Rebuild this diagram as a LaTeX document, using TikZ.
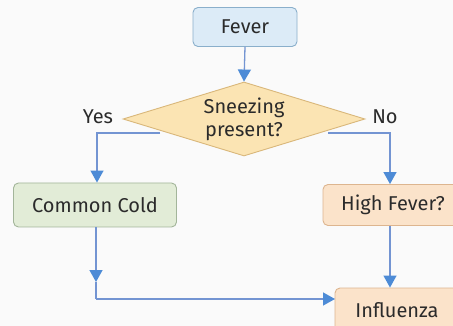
\documentclass[tikz,border=0pt]{standalone}
\usepackage{fontspec}
\setmainfont{Fira Sans}
\usetikzlibrary{shapes.geometric,arrows.meta}
\definecolor{bgc}{HTML}{FAFAFA}
\definecolor{bluefill}{HTML}{DCEBF7}
\definecolor{blueline}{HTML}{8AAFCB}
\definecolor{decfill}{HTML}{FBE4B3}
\definecolor{decline}{HTML}{D9B77A}
\definecolor{greenfill}{HTML}{E2ECD7}
\definecolor{greenline}{HTML}{A3B59A}
\definecolor{orfill}{HTML}{FBE3CA}
\definecolor{orline}{HTML}{DDB58F}
\definecolor{arrowc}{HTML}{4D8BD6}
\definecolor{linec}{HTML}{7394D2}
\definecolor{txt}{HTML}{2B2B2B}
\begin{document}
\begin{tikzpicture}[x=1pt,y=-1pt,
  every node/.style={font=\fontsize{20}{23}\selectfont, text=txt},
  procbox/.style={draw, line width=0.9pt, rounded corners=5pt, inner sep=0pt},
  decbox/.style={draw=decline, fill=decfill, line width=0.9pt, diamond, aspect=3.4, inner sep=0pt, minimum width=242pt, minimum height=74pt, align=center},
  conn/.style={draw=linec, line width=1.3pt, -{Triangle[width=13pt,length=12pt,color=arrowc]}},
  plain/.style={draw=linec, line width=1.3pt}]
\fill[bgc] (0,0) rectangle (453,326);
\useasboundingbox (0,0) rectangle (453,326);
\node[procbox, draw=blueline, fill=bluefill, minimum width=104pt, minimum height=39pt] (fever) at (245,27) {Fever};
\node[decbox] (dec) at (244,119) {\fontsize{20}{24}\selectfont Sneezing\\ present?};
\node (yes) at (98,117) {Yes};
\node (no) at (385,117) {No};
\node[procbox, draw=greenline, fill=greenfill, minimum width=163pt, minimum height=44pt] (cold) at (95,205) {Common Cold};
\node[procbox, draw=orline, fill=orfill, minimum width=140pt, minimum height=41pt] (high) at (393,205) {High Fever?};
\node[procbox, draw=orline, fill=orfill, minimum width=124pt, minimum height=44pt] (infl) at (397,310) {Influenza};
\coordinate (lstart) at (160,133);
\coordinate (lcorner) at (97,133);
\coordinate (rstart) at (328,133);
\coordinate (rcorner) at (390,133);
\coordinate (cmid) at (96,282);
\coordinate (ccorner) at (96,299);
\coordinate (iw) at (335,299);
\draw[conn] (fever.south) -- (dec.north);
\draw[conn] (lstart) -- (lcorner) -- (lcorner |- cold.north);
\draw[conn] (rstart) -- (rcorner) -- (rcorner |- high.north);
\draw[conn] (cold.south -| cmid) -- (cmid);
\draw[plain] (cmid) -- (ccorner);
\draw[conn] (ccorner) -- (iw);
\draw[conn] (high.south -| rcorner) -- (rcorner |- infl.north);
\end{tikzpicture}
\end{document}
